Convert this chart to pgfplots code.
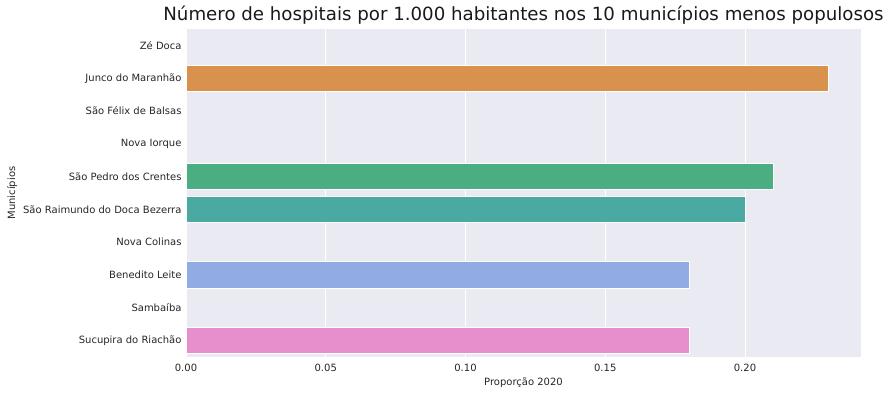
\documentclass[border=0pt]{standalone}
\usepackage{pgfplots}
\pgfplotsset{compat=1.18}
\usepackage{fontspec}
\setmainfont{DejaVu Sans}
\definecolor{bgc}{RGB}{234,234,242}
\definecolor{cor}{RGB}{216,146,77}
\definecolor{cgr}{RGB}{75,174,130}
\definecolor{cte}{RGB}{74,169,160}
\definecolor{cbl}{RGB}{145,172,228}
\definecolor{cpk}{RGB}{230,143,204}
\begin{document}
\begin{tikzpicture}[x=1pt,y=1pt]
\path[use as bounding box] (0,0) rectangle (888,394);
\begin{axis}[
  at={(186pt,37pt)}, anchor=south west,
  scale only axis, width=675pt, height=328pt,
  axis background/.style={fill=bgc},
  axis line style={draw=none},
  major tick length=0pt,
  xmin=0, xmax=0.2415,
  ymin=-0.5, ymax=9.5, y dir=reverse,
  xtick={0,0.05,0.10,0.15,0.20},
  xticklabels={0.00,0.05,0.10,0.15,0.20},
  ytick={0,...,9},
  yticklabels={Zé Doca,Junco do Maranhão,São Félix de Balsas,Nova Iorque,São Pedro dos Crentes,São Raimundo do Doca Bezerra,Nova Colinas,Benedito Leite,Sambaíba,Sucupira do Riachão},
  xmajorgrids, ymajorgrids=false,
  grid style={white, line width=1pt},
  ticklabel style={font=\fontsize{10}{12}\selectfont, text=black!85},
  /pgf/number format/assume math mode=true,
  xticklabel style={yshift=-4pt},
  yticklabel style={xshift=-1pt},
  xlabel={Proporção 2020},
  ylabel={Municípios},
  label style={font=\fontsize{10}{12}\selectfont, text=black!85},
  xlabel style={yshift=1pt},
  ylabel style={yshift=-1pt},
  title={Número de hospitais por 1.000 habitantes nos 10 municípios menos populosos},
  title style={font=\fontsize{18.2}{21}\selectfont, yshift=-5pt, text=black!90},
  xbar, bar width=0.8, bar shift=0pt,
  every axis plot/.append style={draw=white, line width=0.8pt},
]
\addplot[fill=cor, draw=white] coordinates {(0.23,1)};
\addplot[fill=cgr, draw=white] coordinates {(0.21,4)};
\addplot[fill=cte, draw=white] coordinates {(0.20,5)};
\addplot[fill=cbl, draw=white] coordinates {(0.18,7)};
\addplot[fill=cpk, draw=white] coordinates {(0.18,9)};
\end{axis}
\end{tikzpicture}
\end{document}
